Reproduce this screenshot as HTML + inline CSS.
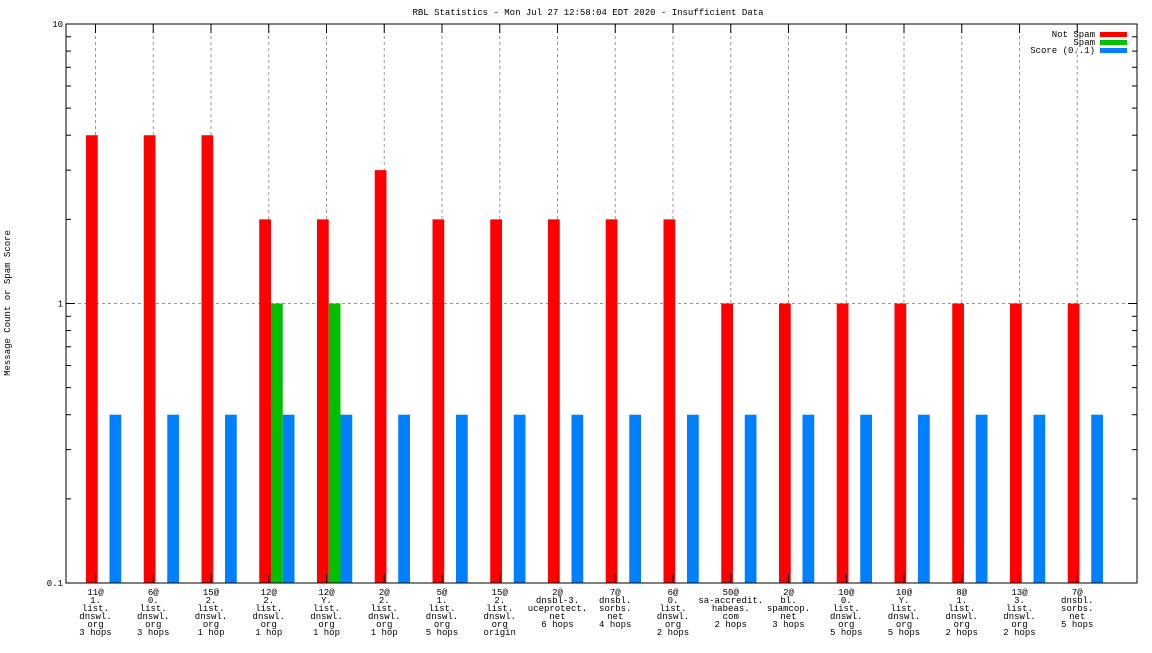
<!DOCTYPE html>
<html><head><meta charset="utf-8"><style>
body{margin:0;background:#fff}
svg text{font-family:"Liberation Mono","DejaVu Sans Mono",monospace;font-size:9px;fill:#000}
</style></head><body>
<svg id="c" width="1152" height="648" xmlns="http://www.w3.org/2000/svg">
<rect width="1152" height="648" fill="#fff"/>
<text x="588" y="15" text-anchor="middle">RBL Statistics - Mon Jul 27 12:58:04 EDT 2020 - Insufficient Data</text>
<text transform="translate(10,303) rotate(-90)" text-anchor="middle">Message Count or Spam Score</text>
<g id="grid"></g><g id="bars"></g><g id="axes"></g><g id="labels"></g>
<g>
<text x="1095" y="37" text-anchor="end">Not Spam</text>
<rect x="1100" y="32" width="27" height="5" fill="#ff0000"/>
<text x="1095" y="45" text-anchor="end">Spam</text>
<rect x="1100" y="40" width="27" height="5" fill="#00c000"/>
<text x="1095" y="53" text-anchor="end">Score (0..1)</text>
<rect x="1100" y="48" width="27" height="5" fill="#0080ff"/>
</g>
</svg>
<script>
const categories=[
["11@","1.","list.","dnswl.","org","3 hops"],["6@","0.","list.","dnswl.","org","3 hops"],["15@","2.","list.","dnswl.","org","1 hop"],
["12@","2.","list.","dnswl.","org","1 hop"],["12@","Y.","list.","dnswl.","org","1 hop"],["2@","2.","list.","dnswl.","org","1 hop"],
["5@","1.","list.","dnswl.","org","5 hops"],["15@","2.","list.","dnswl.","org","origin"],["2@","dnsbl-3.","uceprotect.","net","6 hops"],
["7@","dnsbl.","sorbs.","net","4 hops"],["6@","0.","list.","dnswl.","org","2 hops"],["50@","sa-accredit.","habeas.","com","2 hops"],
["2@","bl.","spamcop.","net","3 hops"],["10@","0.","list.","dnswl.","org","5 hops"],["10@","Y.","list.","dnswl.","org","5 hops"],
["8@","1.","list.","dnswl.","org","2 hops"],["13@","3.","list.","dnswl.","org","2 hops"],["7@","dnsbl.","sorbs.","net","5 hops"]];
const notSpam=[4,4,4,2,2,3,2,2,2,2,2,1,1,1,1,1,1,1];
const spam=[0,0,0,1,1,0,0,0,0,0,0,0,0,0,0,0,0,0];
const score=[0.4,0.4,0.4,0.4,0.4,0.4,0.4,0.4,0.4,0.4,0.4,0.4,0.4,0.4,0.4,0.4,0.4,0.4];
const yTicks=["0.1","1","10"];
const L=66,R=1137,T=24,B=583;
const NS="http://www.w3.org/2000/svg";
const y=v=>B-(Math.log10(v)+1)/2*(B-T);
const xc=i=>95.5+i*57.75;
function mk(p,tag,a){const e=document.createElementNS(NS,tag);for(const k in a)e.setAttribute(k,a[k]);document.getElementById(p).appendChild(e);return e;}
// grid
categories.forEach((c,i)=>{const g=mk('grid','line',{x1:xc(i),x2:xc(i),y1:T,y2:B,stroke:'#999','stroke-dasharray':'3,3'});

});
const hg=mk('grid','line',{x1:L,x2:R,y1:y(1),y2:y(1),stroke:'#999','stroke-dasharray':'3,3'});


// bars
const W=11.75;
function bar(v,x,col,name){if(!v)return;const r=mk('bars','rect',{x:x,y:y(v),width:W,height:B-y(v),fill:col});

}
categories.forEach((c,i)=>{bar(notSpam[i],xc(i)-9.5,'#ff0000','bar-not-spam');bar(spam[i],xc(i)+2.25,'#00c000','bar-spam');bar(score[i],xc(i)+14,'#0080ff','bar-score');});
// axes
const fr=mk('axes','rect',{x:L,y:T,width:R-L,height:B-T,fill:'none',stroke:'#000','stroke-width':1});


for(let d=-1;d<1;d++)for(let m=1;m<10;m++){const v=m*Math.pow(10,d);const len=m==1?9:5;
mk('axes','line',{x1:L,x2:L+len,y1:y(v),y2:y(v),stroke:'#000'});mk('axes','line',{x1:R,x2:R-len,y1:y(v),y2:y(v),stroke:'#000'});}
yTicks.forEach(t=>{const e=mk('labels','text',{x:L-3,y:y(+t)+3,'text-anchor':'end'});e.textContent=t;

});
categories.forEach((c,i)=>{mk('axes','line',{x1:xc(i),x2:xc(i),y1:B,y2:B-9,stroke:'#000'});mk('axes','line',{x1:xc(i),x2:xc(i),y1:T,y2:T+9,stroke:'#000'});
c.forEach((s,j)=>{const e=mk('labels','text',{x:xc(i),y:595+j*8,'text-anchor':'middle'});e.textContent=s;

});});
</script>
</body></html>
